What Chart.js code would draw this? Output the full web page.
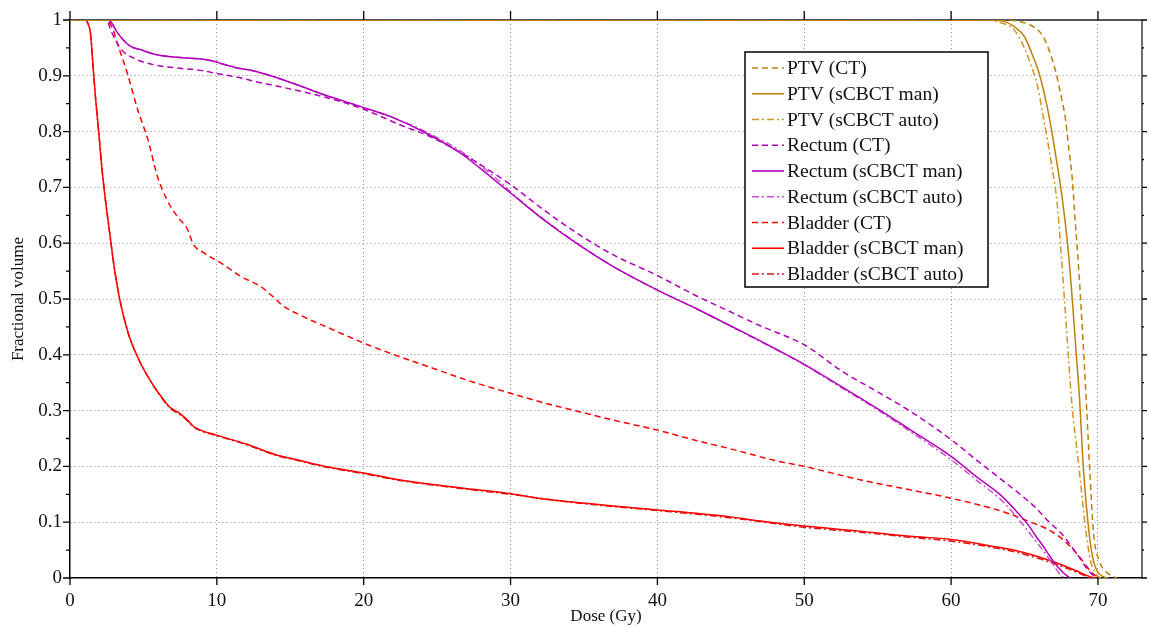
<!DOCTYPE html>
<html>
<head>
<meta charset="utf-8">
<script src="https://cdn.jsdelivr.net/npm/chart.js@4.4.1/dist/chart.umd.min.js"></script>
<style>
  html, body { margin: 0; padding: 0; background: #fff; }
  #wrap { width: 1149px; height: 627px; position: relative; }
</style>
</head>
<body>
<div id="wrap"><canvas id="dvh"></canvas></div>
<script>
// DVH curves: dose (Gy) and fractional volume
const ptvCtDose = [0, 63.5, 64.7, 65.6, 66.2, 66.67, 67.1, 67.46, 67.8, 68.0, 68.26, 68.4, 68.7, 68.95, 69.2, 69.45, 69.7, 70.1, 70.6, 71.1, 71.3];
const ptvCtVol  = [1, 1, 0.997, 0.988, 0.973, 0.946, 0.91, 0.868, 0.82, 0.773, 0.713, 0.659, 0.55, 0.44, 0.32, 0.19, 0.08, 0.03, 0.01, 0.002, 0];

const ptvManDose = [0, 62.3, 63.5, 64.3, 65.0, 65.5, 66.0, 66.45, 66.8, 67.1, 67.46, 67.7, 68.0, 68.25, 68.5, 68.75, 69.0, 69.4, 69.7, 70.0, 70.4, 70.7];
const ptvManVol  = [1, 1, 0.998, 0.988, 0.97, 0.94, 0.904, 0.856, 0.809, 0.761, 0.701, 0.653, 0.58, 0.5, 0.41, 0.32, 0.2, 0.08, 0.03, 0.01, 0.002, 0];

const ptvAutoDose = [0, 62.5, 63.15, 64.3, 64.85, 65.4, 65.9, 66.2, 66.56, 66.9, 67.2, 67.5, 67.85, 68.2, 68.7, 69.2, 69.5, 69.8, 70.0, 70.2];
const ptvAutoVol  = [1, 1, 0.997, 0.982, 0.958, 0.922, 0.88, 0.838, 0.785, 0.731, 0.677, 0.58, 0.45, 0.32, 0.2, 0.08, 0.03, 0.01, 0.003, 0];

const rectumCtDose = [0, 2.5, 2.8, 3.5, 4.3, 5.66, 7.25, 9.07, 10, 11.3, 12.9, 14.9, 17.9, 20, 22.4, 24.7, 27, 29, 30, 32.4, 34.7, 37, 40, 42.7, 44.9, 47, 50, 52.6, 54.9, 57.2, 60, 61.7, 63.5, 64.7, 65.8, 66.5, 67.5, 68.6, 69.3, 69.85];
const rectumCtVol  = [1, 1, 0.98, 0.947, 0.932, 0.92, 0.914, 0.909, 0.904, 0.898, 0.888, 0.877, 0.858, 0.84, 0.813, 0.789, 0.756, 0.723, 0.705, 0.657, 0.615, 0.579, 0.542, 0.505, 0.478, 0.452, 0.418, 0.37, 0.335, 0.299, 0.248, 0.212, 0.175, 0.15, 0.125, 0.105, 0.08, 0.042, 0.015, 0];

const rectumManDose = [0, 2.5, 2.78, 3.24, 4.1, 4.8, 5.7, 6.86, 8.9, 9.8, 10.4, 11.4, 12.45, 14.5, 17.2, 20, 22, 24.2, 26.5, 27.9, 29.2, 30, 32.4, 34.7, 37, 40, 42.7, 44.9, 47, 50, 52.6, 54.9, 57.2, 60, 61.7, 63.4, 64.6, 65.2, 65.8, 66.3, 66.7, 67.1, 67.7, 68.1];
const rectumManVol  = [1, 1, 0.997, 0.977, 0.953, 0.947, 0.939, 0.934, 0.93, 0.926, 0.921, 0.914, 0.909, 0.893, 0.867, 0.843, 0.825, 0.798, 0.763, 0.735, 0.707, 0.69, 0.639, 0.596, 0.558, 0.516, 0.482, 0.453, 0.425, 0.383, 0.342, 0.305, 0.266, 0.218, 0.182, 0.148, 0.115, 0.097, 0.074, 0.056, 0.04, 0.025, 0.008, 0];

const rectumAutoDose = [0, 2.5, 2.78, 3.24, 4.1, 4.8, 5.7, 6.86, 8.9, 9.8, 10.4, 11.4, 12.45, 14.5, 17.2, 20, 22, 24.2, 26.5, 27.9, 29.2, 30, 32.4, 34.7, 37, 40, 42.7, 44.9, 47, 50, 52.6, 54.9, 57.2, 60, 61.7, 63.4, 64.6, 65.8, 66.3, 67.1, 67.5, 67.8];
const rectumAutoVol  = [1, 1, 0.997, 0.977, 0.953, 0.947, 0.939, 0.934, 0.93, 0.926, 0.921, 0.914, 0.909, 0.893, 0.867, 0.843, 0.825, 0.8, 0.767, 0.74, 0.712, 0.692, 0.64, 0.597, 0.558, 0.516, 0.482, 0.452, 0.424, 0.382, 0.34, 0.303, 0.263, 0.212, 0.176, 0.14, 0.105, 0.065, 0.048, 0.018, 0.004, 0];

const bladderCtDose = [0, 2.48, 2.9, 3.2, 3.9, 4.6, 5.3, 5.95, 6.6, 7.3, 8.0, 8.4, 9.1, 10.25, 11.6, 13.0, 14.0, 14.5, 15.6, 17.9, 20, 22.4, 24.7, 27, 30, 32.4, 34.7, 37, 40, 42.7, 44.9, 48.1, 50, 53.8, 57.2, 60, 63.4, 64.96, 67.0, 68.1, 68.8, 69.5, 70.05];
const bladderCtVol  = [1, 1, 0.985, 0.96, 0.905, 0.84, 0.786, 0.72, 0.678, 0.648, 0.625, 0.598, 0.583, 0.565, 0.541, 0.522, 0.5, 0.488, 0.472, 0.445, 0.421, 0.397, 0.376, 0.355, 0.331, 0.313, 0.298, 0.283, 0.265, 0.246, 0.232, 0.21, 0.2, 0.176, 0.158, 0.143, 0.12, 0.105, 0.081, 0.057, 0.036, 0.012, 0];

const bladderManDose = [0, 1.05, 1.2, 1.4, 1.57, 1.75, 1.96, 2.16, 2.41, 2.7, 3.0, 3.39, 3.95, 4.4, 5.0, 5.8, 6.3, 6.8, 7.3, 7.7, 8.0, 8.4, 8.8, 10, 12, 14, 15.6, 17.4, 20, 22.4, 25.8, 30, 32.4, 34.7, 37, 40, 42.7, 44.9, 47, 50, 53.8, 57.2, 60, 62.8, 64.6, 66.2, 67.2, 68.6, 69.5, 69.9];
const bladderManVol  = [1, 1, 0.995, 0.975, 0.917, 0.857, 0.798, 0.738, 0.678, 0.619, 0.559, 0.499, 0.44, 0.408, 0.375, 0.34, 0.322, 0.306, 0.298, 0.29, 0.283, 0.272, 0.266, 0.256, 0.24, 0.221, 0.211, 0.2, 0.188, 0.176, 0.164, 0.151, 0.141, 0.135, 0.129, 0.122, 0.116, 0.11, 0.102, 0.093, 0.084, 0.075, 0.069, 0.057, 0.048, 0.036, 0.027, 0.012, 0.002, 0];

const bladderAutoDose = [0, 1.05, 1.2, 1.4, 1.57, 1.75, 1.96, 2.16, 2.41, 2.7, 3.0, 3.39, 3.95, 4.4, 5.0, 5.8, 6.8, 7.7, 8.4, 8.8, 10, 12, 14, 15.6, 17.4, 20, 22.4, 25.8, 30, 34.7, 40, 44.9, 50, 53.8, 57.2, 60, 62.8, 64.6, 66.2, 67.2, 68.6, 69.4, 69.8];
const bladderAutoVol  = [1, 1, 0.995, 0.975, 0.917, 0.857, 0.798, 0.738, 0.678, 0.619, 0.559, 0.499, 0.44, 0.408, 0.375, 0.34, 0.305, 0.289, 0.271, 0.265, 0.255, 0.239, 0.22, 0.21, 0.199, 0.187, 0.175, 0.163, 0.15, 0.134, 0.121, 0.108, 0.091, 0.082, 0.073, 0.066, 0.055, 0.045, 0.033, 0.024, 0.01, 0.001, 0];

const seriesLabels = [
  'PTV (CT)', 'PTV (sCBCT man)', 'PTV (sCBCT auto)',
  'Rectum (CT)', 'Rectum (sCBCT man)', 'Rectum (sCBCT auto)',
  'Bladder (CT)', 'Bladder (sCBCT man)', 'Bladder (sCBCT auto)'
];

const doseMax = 73;

function pts(xs, ys) {
  return xs.map((x, i) => ({x: x, y: ys[i]}));
}

const DASH = [6, 4];
const DASHDOT = [7, 3, 2, 3];
const ptvColour = 'rgb(190,128,10)';
const ptvAutoColour = 'rgb(205,150,45)';
const rectumColour = 'rgb(178,0,185)';
const rectumAutoColour = 'rgb(200,80,205)';
const bladderColour = 'rgb(255,0,0)';
const bladderAutoColour = 'rgb(220,20,20)';

function ds(label, data, colour, dash) {
  return {
    label: label,
    data: data,
    borderColor: colour,
    backgroundColor: colour,
    borderDash: dash,
    borderWidth: 1.5,
    pointRadius: 0,
    fill: false,
    cubicInterpolationMode: 'monotone'
  };
}

const datasets = [
  ds(seriesLabels[0], pts(ptvCtDose, ptvCtVol), ptvColour, DASH),
  ds(seriesLabels[1], pts(ptvManDose, ptvManVol), ptvColour, []),
  ds(seriesLabels[2], pts(ptvAutoDose, ptvAutoVol), ptvAutoColour, DASHDOT),
  ds(seriesLabels[3], pts(rectumCtDose, rectumCtVol), rectumColour, DASH),
  ds(seriesLabels[4], pts(rectumManDose, rectumManVol), rectumColour, []),
  ds(seriesLabels[5], pts(rectumAutoDose, rectumAutoVol), rectumAutoColour, DASHDOT),
  ds(seriesLabels[6], pts(bladderCtDose, bladderCtVol), bladderColour, DASH),
  ds(seriesLabels[7], pts(bladderManDose, bladderManVol), bladderColour, []),
  ds(seriesLabels[8], pts(bladderAutoDose, bladderAutoVol), bladderAutoColour, DASHDOT)
];

const SERIF = "'Liberation Serif', 'Times New Roman', serif";

// top and right frame lines, under the curves
const frameLines = {
  id: 'frameLines',
  beforeDatasetsDraw(chart) {
    const ctx = chart.ctx;
    const a = chart.chartArea;
    ctx.save();
    ctx.strokeStyle = '#222';
    ctx.lineWidth = 1.3;
    ctx.beginPath();
    ctx.moveTo(a.left, a.top);
    ctx.lineTo(a.right, a.top);
    ctx.lineTo(a.right, a.bottom);
    ctx.stroke();
    ctx.restore();
  }
};

// outward tick marks on all four sides
const frameTicks = {
  id: 'frameTicks',
  afterDraw(chart) {
    const ctx = chart.ctx;
    const a = chart.chartArea;
    const xs = chart.scales.x, ys = chart.scales.y;
    ctx.save();
    ctx.strokeStyle = '#000';
    ctx.lineWidth = 1.3;
    ctx.setLineDash([]);
    ctx.beginPath();
    for (let i = 0; i <= 20; i++) {
      const y = ys.getPixelForValue(i / 20);
      const len = i % 2 === 0 ? 7 : 4;
      ctx.moveTo(a.left - len, y); ctx.lineTo(a.left, y);
      ctx.moveTo(a.right, y); ctx.lineTo(a.right + len - 2, y);
    }
    xs.ticks.forEach(t => {
      const x = xs.getPixelForValue(t.value);
      ctx.moveTo(x, a.bottom); ctx.lineTo(x, a.bottom + 7);
      ctx.moveTo(x, a.top - 9); ctx.lineTo(x, a.top);
    });
    ctx.stroke();
    ctx.restore();
  }
};

// boxed legend inside the plot area
const boxLegend = {
  id: 'boxLegend',
  afterDraw(chart) {
    const ctx = chart.ctx;
    const left = 745, top = 52, w = 243, h = 235;
    ctx.save();
    ctx.fillStyle = '#fff';
    ctx.fillRect(left, top, w, h);
    ctx.strokeStyle = '#000';
    ctx.lineWidth = 1.5;
    ctx.strokeRect(left, top, w, h);
    ctx.font = '19.5px ' + SERIF;
    ctx.textBaseline = 'middle';
    chart.data.datasets.forEach((d, i) => {
      const y = 68 + i * 25.75;
      ctx.strokeStyle = d.borderColor;
      ctx.lineWidth = 1.6;
      ctx.setLineDash(d.borderDash);
      ctx.beginPath();
      ctx.moveTo(752, y); ctx.lineTo(784, y);
      ctx.stroke();
      ctx.setLineDash([]);
      ctx.fillStyle = '#111';
      ctx.fillText(d.label, 787, y + 1);
    });
    ctx.restore();
  }
};

const gridColour = c => c.tick && c.tick.value === 0 ? 'rgba(0,0,0,0)' : '#8a8a8a';

new Chart(document.getElementById('dvh').getContext('2d'), {
  type: 'line',
  data: {datasets: datasets},
  options: {
    responsive: true,
    maintainAspectRatio: false,
    animation: false,
    layout: {padding: {top: 20, right: 7, left: 0, bottom: 0}},
    plugins: {legend: {display: false}, tooltip: {enabled: false}},
    scales: {
      x: {
        type: 'linear',
        min: 0,
        max: doseMax,
        afterFit: s => { s.height = 49; },
        border: {color: '#000', width: 1.5, dash: [1, 3]},
        grid: {drawTicks: false, color: gridColour, lineWidth: 1},
        ticks: {
          stepSize: 10,
          includeBounds: false,
          maxRotation: 0,
          padding: 12,
          color: '#111',
          font: {family: SERIF, size: 19}
        },
        title: {
          display: true,
          text: 'Dose (Gy)',
          color: '#111',
          font: {family: SERIF, size: 17},
          padding: {top: 0, bottom: 0}
        }
      },
      y: {
        type: 'linear',
        min: 0,
        max: 1,
        afterFit: s => { s.width = 70; },
        border: {color: '#000', width: 1.5, dash: [1, 3]},
        grid: {drawTicks: false, color: gridColour, lineWidth: 1},
        ticks: {
          stepSize: 0.1,
          padding: 8,
          color: '#111',
          font: {family: SERIF, size: 19},
          callback: v => String(parseFloat(v.toFixed(2)))
        },
        title: {
          display: true,
          text: 'Fractional volume',
          color: '#111',
          font: {family: SERIF, size: 17},
          padding: {top: 8, bottom: 0}
        }
      }
    }
  },
  plugins: [frameLines, frameTicks, boxLegend]
});
</script>
</body>
</html>
